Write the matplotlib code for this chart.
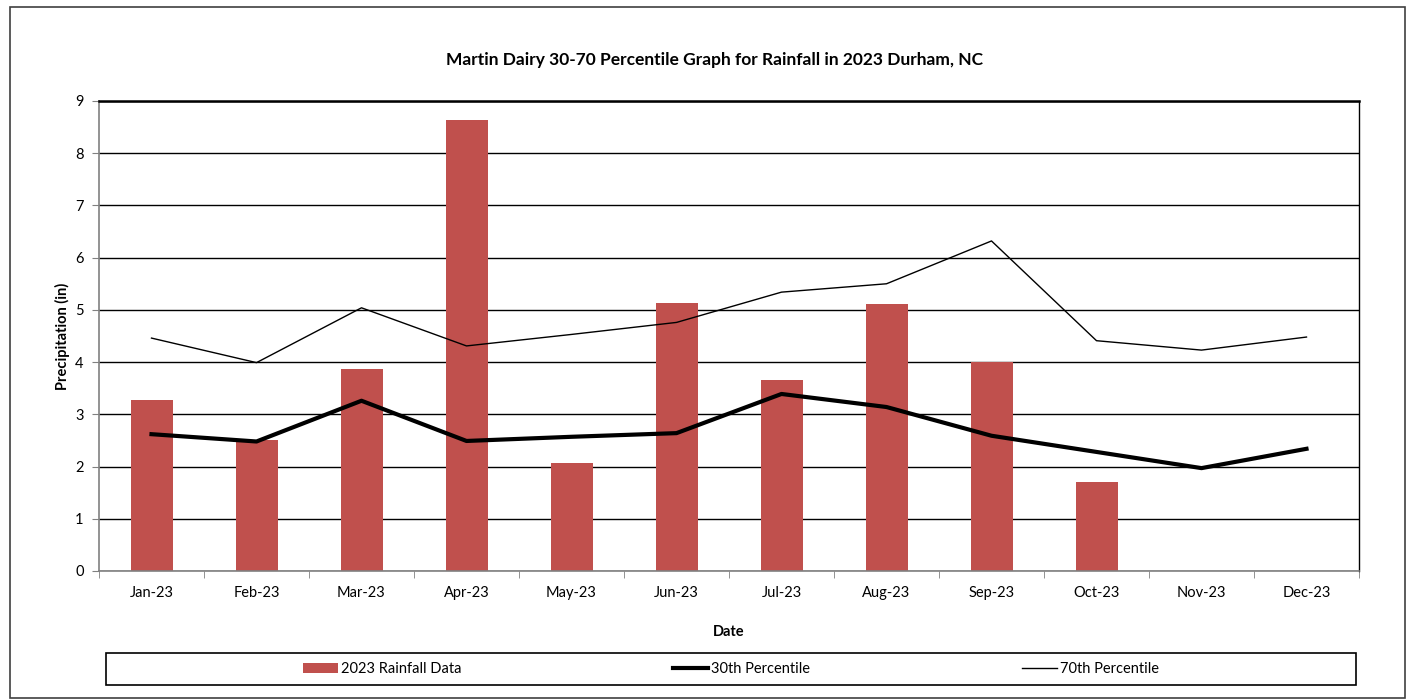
import matplotlib
matplotlib.use('Agg')
import matplotlib.pyplot as plt
from matplotlib.patches import Rectangle
import numpy as np

plt.rcParams['font.family'] = ['Lato', 'DejaVu Sans']

months = ['Jan-23', 'Feb-23', 'Mar-23', 'Apr-23', 'May-23', 'Jun-23',
          'Jul-23', 'Aug-23', 'Sep-23', 'Oct-23', 'Nov-23', 'Dec-23']
rainfall = [3.28, 2.50, 3.87, 8.63, 2.07, 5.14, 3.66, 5.12, 4.01, 1.70, np.nan, np.nan]
pct30 = [2.62, 2.48, 3.26, 2.49, 2.57, 2.64, 3.39, 3.14, 2.59, 2.28, 1.97, 2.34]
pct70 = [4.46, 3.99, 5.04, 4.31, 4.53, 4.76, 5.34, 5.50, 6.32, 4.41, 4.23, 4.48]

W, H = 1409, 699
fig = plt.figure(figsize=(W / 100, H / 100), dpi=100)
ax = fig.add_axes([99 / W, 1 - 571 / H, (1359 - 99) / W, (571 - 101) / H])

x = np.arange(len(months))
bars = ax.bar(x, rainfall, width=0.4, color='#C0504D', label='2023 Rainfall Data', zorder=2)
l30, = ax.plot(x, pct30, color='black', lw=3.0, label='30th Percentile', zorder=3)
l70, = ax.plot(x, pct70, color='black', lw=1.0, label='70th Percentile', zorder=3)

ax.set_xlim(-0.5, len(months) - 0.5)
ax.set_ylim(0, 9)
ax.set_yticks(range(10))
ax.yaxis.grid(True, color='black', lw=1.0, zorder=1)
ax.set_axisbelow(True)

ax.set_xticks(x)
ax.set_xticklabels(months, fontsize=10.5)
ax.set_xticks(np.arange(-0.5, len(months)), minor=True)
ax.tick_params(axis='x', which='major', length=0, pad=11)
ax.tick_params(axis='x', which='minor', length=5, color='#808080', direction='out')
ax.tick_params(axis='y', length=5, color='#808080', labelsize=10.5, pad=6)

for s in ['left', 'bottom']:
    ax.spines[s].set_color('#808080')
    ax.spines[s].set_linewidth(1.2)
ax.spines['top'].set_color('black')
ax.spines['top'].set_linewidth(1.8)
ax.spines['right'].set_color('black')
ax.spines['right'].set_linewidth(1.0)

ax.set_ylabel('Precipitation (in)', fontsize=10.5, fontweight='bold', labelpad=4)
fig.text(729 / W, 1 - 632 / H, 'Date', ha='center', va='center', fontsize=10.5, fontweight='bold')
fig.text(715 / W, 1 - 60 / H, 'Martin Dairy 30-70 Percentile Graph for Rainfall in 2023 Durham, NC',
         ha='center', va='center', fontsize=12.5, fontweight='bold')

# outer chart frame and legend box
fig.patches.append(Rectangle((10 / W, 1 - 698 / H), 1395 / W, 691 / H, transform=fig.transFigure,
                             fill=False, edgecolor='#404040', lw=1.2))
fig.patches.append(Rectangle((106 / W, 1 - 685 / H), 1250 / W, 32 / H, transform=fig.transFigure,
                             fill=False, edgecolor='black', lw=1.2))

fig.legend([bars, l30, l70], ['2023 Rainfall Data', '30th Percentile', '70th Percentile'],
           loc='center', bbox_to_anchor=(731 / W, 1 - 669 / H), ncol=3,
           frameon=False, fontsize=10.5, handlelength=2.4, handletextpad=0.2, columnspacing=14.5)

fig.savefig('out.png', dpi=100)
